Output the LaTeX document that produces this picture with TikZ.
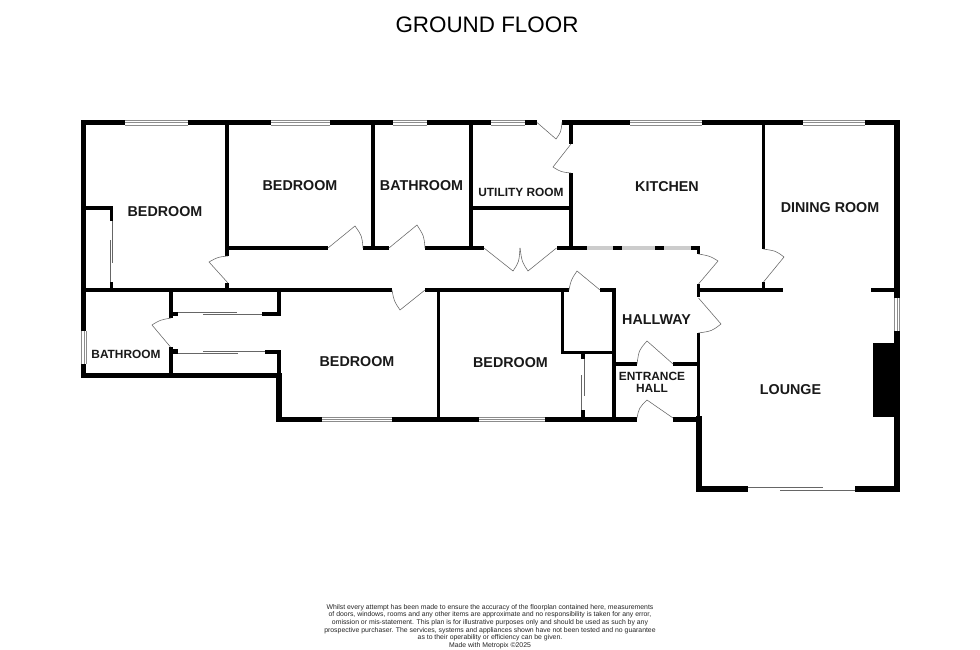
\documentclass[tikz,border=0pt]{standalone}
\usepackage{fontspec}
\setmainfont{Liberation Sans}
\newcommand{\wallbox}[4]{\fill[black] (#1,#2) rectangle (#3,#4);}
\newcommand{\winh}[4]{\fill[white] (#1,#2) rectangle (#3,#4);
  \draw[winline] (#1,#2) -- (#3,#2) (#1,{(#2+#4)/2}) -- (#3,{(#2+#4)/2}) (#1,#4) -- (#3,#4);}
\newcommand{\winv}[4]{\fill[white] (#1,#2) rectangle (#3,#4);
  \draw[winline] (#1,#2) -- (#1,#4) ({(#1+#3)/2},#2) -- ({(#1+#3)/2},#4) (#3,#2) -- (#3,#4);}
% hinge, leaf end, arc control, arc end
\newcommand{\doorleaf}[4]{\draw[doorline] (#1) -- (#2) .. controls (#3) .. (#4);}
\begin{document}
\begin{tikzpicture}[x=1pt,y=-1pt,
  winline/.style={draw=black!45,line width=0.5pt},
  doorline/.style={draw=black!60,line width=0.55pt},
  slideline/.style={draw=black!60,line width=0.7pt},
  roomlabel/.style={font=\fontsize{14.3}{16}\selectfont\bfseries,text=black!90,inner sep=0pt,align=center},
  smalllabel/.style={font=\fontsize{11.9}{12.2}\selectfont\bfseries,text=black!90,inner sep=0pt,align=center}]
\useasboundingbox (0,0) rectangle (980,650);
\fill[white] (0,0) rectangle (980,650);

% --- outer top wall
\wallbox{80.7}{119.7}{125}{125.3}
\wallbox{188}{119.7}{271}{125.3}
\wallbox{330}{119.7}{393}{125.3}
\wallbox{427}{119.7}{491}{125.3}
\wallbox{525}{119.7}{537}{125.3}
\wallbox{562}{119.7}{630}{125.3}
\wallbox{702}{119.7}{803}{125.3}
\wallbox{865}{119.7}{900}{125.3}
\winh{125}{120.5}{188}{125}
\winh{271}{120.5}{330}{125}
\winh{393}{120.5}{427}{125}
\winh{491}{120.5}{525}{125}
\winh{630}{120.5}{702}{125}
\winh{803}{120.5}{865}{125}

% --- left wall
\wallbox{80.7}{119.7}{86}{331}
\wallbox{80.7}{364}{86}{378}
\winv{81.5}{331}{86}{364}

% --- right wall
\wallbox{894}{119.7}{900}{298}
\wallbox{894}{331}{900}{491.7}
\winv{894.5}{298}{899.5}{331}
\wallbox{873}{343}{894}{417}

% --- lounge
\wallbox{696}{485.7}{748}{491.7}
\wallbox{855}{485.7}{900}{491.7}
\draw[slideline] (748,487) -- (823,487);
\draw[slideline] (780,490.5) -- (855,490.5);
\wallbox{696}{416}{701.5}{491.7}
\wallbox{697}{333}{700.3}{416}
\wallbox{697}{284}{700.3}{297}
\wallbox{697}{288}{783}{292}
\wallbox{871}{288}{894}{292}

% --- dining room wall
\wallbox{762}{125}{765.3}{249}
\wallbox{762}{282}{765.3}{288}
\doorleaf{763.5,282}{784,257}{776,251}{763.5,249}

% --- corridor top wall
\wallbox{225.3}{125}{229}{256}
\wallbox{225.3}{283}{229}{289}
\wallbox{228}{246}{328}{250}
\wallbox{363}{246}{389}{250}
\wallbox{425}{246}{484}{250}
\wallbox{557}{246}{587}{250}
\wallbox{613}{246}{622}{250}
\wallbox{655}{246}{664}{250}
\wallbox{691}{246}{700.3}{250}
\wallbox{697}{246}{700.3}{254}
\fill[black!20] (587,246) rectangle (613,250);
\fill[black!20] (622,246) rectangle (655,250);
\fill[black!20] (664,246) rectangle (691,250);

% --- interior upper rooms
\wallbox{371}{125}{375}{247}
\wallbox{469}{125}{473}{247}
\wallbox{473}{206}{570}{209.7}
\wallbox{569}{125}{573}{144}
\wallbox{569}{173}{573}{247}

% --- bedroom one closet
\wallbox{86}{206}{113}{209.7}
\wallbox{110}{206}{113.3}{221}
\wallbox{110}{282}{113.3}{288}
\draw[slideline] (112.7,221) -- (112.7,263);
\draw[slideline] (110.3,240) -- (110.3,282);

% --- long corridor bottom wall
\wallbox{83}{288}{392}{292}
\wallbox{425}{288}{569}{292}
\wallbox{600}{288}{616}{292}
\wallbox{612}{288}{616}{420}

% --- closet beside hallway
\wallbox{561}{292}{564.3}{353.5}
\wallbox{561}{350.5}{612}{353.8}
\wallbox{581}{353}{585}{359}
\wallbox{581}{410}{585}{417}
\draw[slideline] (584.3,359) -- (584.3,396);
\draw[slideline] (581.8,375) -- (581.8,410);

% --- entrance hall
\wallbox{616}{362}{637}{366}
\wallbox{673}{362}{697}{366}
\wallbox{437}{292}{440.3}{417}

% --- bottom wall
\wallbox{276}{416.5}{322}{422}
\wallbox{392}{416.5}{479}{422}
\wallbox{545}{416.5}{637}{422}
\wallbox{673}{416.5}{698}{422}
\winh{322}{417}{392}{421.5}
\winh{479}{417}{545}{421.5}

% --- bathroom and wardrobes
\wallbox{80.7}{372.5}{282}{378}
\wallbox{276}{373}{282}{422}
\wallbox{169}{292}{173}{318}
\wallbox{173}{312}{178}{315.5}
\wallbox{262}{312}{280.5}{315.5}
\wallbox{277}{292}{280.5}{315.5}
\wallbox{169}{347}{173}{373}
\wallbox{173}{349}{178}{353.5}
\wallbox{265}{350}{280.5}{353.5}
\wallbox{277}{350}{280.5}{373}
\draw[slideline] (178,312.5) -- (237,312.5);
\draw[slideline] (203,314.5) -- (262,314.5);
\draw[slideline] (203,351) -- (265,351);
\draw[slideline] (178,353.2) -- (238,353.2);

% --- doors
\doorleaf{537,122.5}{556,139}{561,132}{562,122.5}
\doorleaf{571,144}{553,167}{561,172}{571,173}
\doorleaf{228,283}{209,262}{218,257}{228,256}
\doorleaf{328,248}{355,226}{362,236}{363,248}
\doorleaf{389,248}{417,225}{424,236}{425,248}
\doorleaf{484,248}{513,271}{519,262}{520,248}
\doorleaf{556.5,248}{528,271}{522,262}{520,248}
\doorleaf{425,290}{400,310}{394,301}{392,290}
\doorleaf{600,290}{577,271}{571,280}{569,290}
\doorleaf{698.5,284}{718,261}{710,256}{698.5,254}
\doorleaf{698.5,298}{721,324}{712,331}{698.5,333}
\doorleaf{673,364}{647,341}{639,350}{637,364}
\doorleaf{673,418}{647,400}{639,408}{637,418}
\doorleaf{170.5,347}{152,325}{160,320}{171,318}

% --- labels
\node[font=\fontsize{22.4}{26}\selectfont,inner sep=0pt] (title) at (487,25) {GROUND FLOOR};
\node[roomlabel] (bedA) at (165,211.5) {BEDROOM};
\node[roomlabel] (bedB) at (300,186) {BEDROOM};
\node[roomlabel] (bathA) at (421.5,186) {BATHROOM};
\node[smalllabel] (util) at (521,192) {UTILITY ROOM};
\node[roomlabel] (kitchen) at (667,186.5) {KITCHEN};
\node[roomlabel] (dining) at (830,207.5) {DINING ROOM};
\node[roomlabel] (hall) at (656.5,319.5) {HALLWAY};
\node[smalllabel] (entrance) at (652,382) {ENTRANCE\\HALL};
\node[smalllabel] (bathB) at (126,354) {BATHROOM};
\node[roomlabel] (bedC) at (357,362) {BEDROOM};
\node[roomlabel] (bedD) at (510.5,363) {BEDROOM};
\node[roomlabel] (lounge) at (790.5,390) {LOUNGE};
\node[font=\fontsize{6.87}{7.7}\selectfont,inner sep=0pt,align=center,text=black!85] (note) at (490,626.5)
 {Whilst every attempt has been made to ensure the accuracy of the floorplan contained here, measurements\\
  of doors, windows, rooms and any other items are approximate and no responsibility is taken for any error,\\
  omission or mis-statement. This plan is for illustrative purposes only and should be used as such by any\\
  prospective purchaser. The services, systems and appliances shown have not been tested and no guarantee\\
  as to their operability or efficiency can be given.\\
  Made with Metropix ©2025};
\end{tikzpicture}
\end{document}
